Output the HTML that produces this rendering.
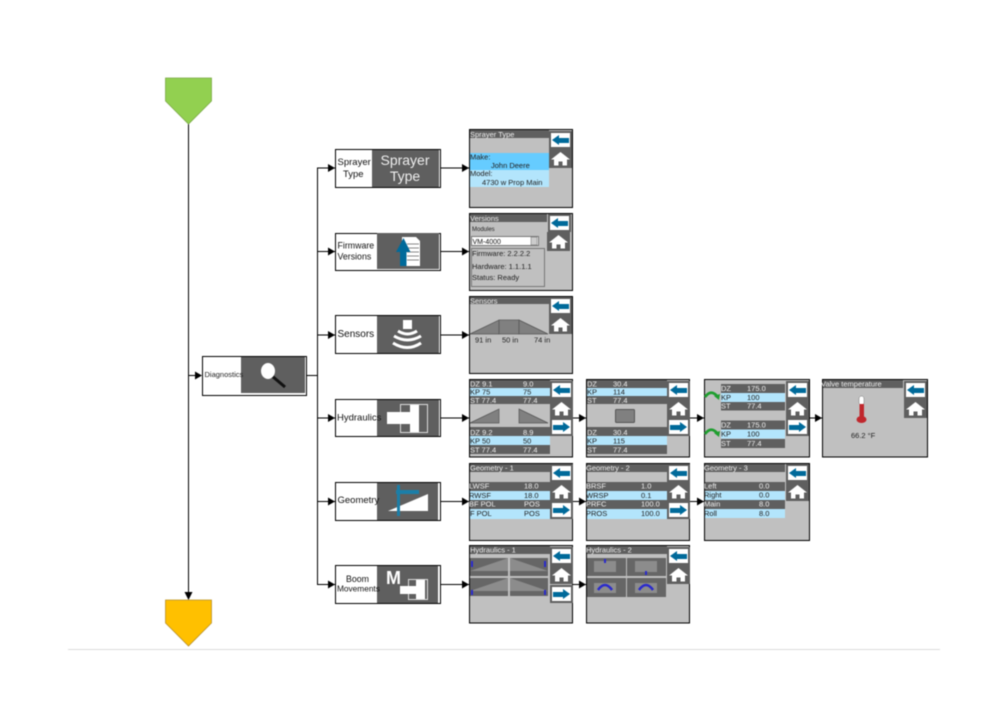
<!DOCTYPE html>
<html><head><meta charset="utf-8"><style>
html,body{margin:0;padding:0;background:#fff}
svg{display:block;filter:blur(.4px)}
text{font-family:"Liberation Sans",sans-serif}
.l{font-size:9.5px;fill:#111}
.w{fill:#f0f0f0;font-size:7.5px}
.d{fill:#222;font-size:7.5px}
</style></head><body>
<svg width="1008" height="720" viewBox="0 0 1008 720" xmlns="http://www.w3.org/2000/svg">
<defs>
<g id="ar"><polygon points="-7,-4 0,0 -7,4" fill="#000"/></g>
<g id="back"><rect x="0" y="0" width="23" height="18" fill="#5f5f5f"/><rect x="2" y="2" width="19" height="14" fill="#fff"/><polygon points="3,9 10,4 10,7 20,7 20,12 10,12 10,14" fill="#006a9a"/></g>
<g id="next"><rect x="0" y="0" width="23" height="18" fill="#5f5f5f"/><rect x="2" y="2" width="19" height="14" fill="#fff"/><polygon points="20,9 13,4 13,7 3,7 3,12 13,12 13,14" fill="#006a9a"/></g>
<g id="home"><rect x="0" y="0" width="23" height="19" fill="#5f5f5f"/><polygon points="11.500,3 21,10.500 18,10.500 18,16.500 13.500,16.500 13.500,12.500 9.500,12.500 9.500,16.500 5,16.500 5,10.500 2,10.500" fill="#fff"/></g>
<g id="tri"><polygon points="0,14 29,0 29,14" fill="#808080" stroke="#555" stroke-width=".7"/></g>
<g id="tril"><polygon points="0,0 29,14 0,14" fill="#808080" stroke="#555" stroke-width=".7"/></g>
</defs>

<!-- footer -->
<rect x="68" y="649" width="872" height="1" fill="#dcdcdc"/>

<!-- connectors -->
<g stroke="#000" stroke-width="1" fill="none">
<path d="M188.500 124V594"/>
<path d="M188.500 375.500H196"/>
<path d="M307 375.500H317.500"/>
<path d="M335 168H317.500V584.500H335"/>
<path d="M317.500 251.500H335M317.500 335H335M317.500 418H335M317.500 501.500H335"/>
<path d="M441 168H469M441 251.500H469M441 335H469M441 418H469M441 501.500H469M441 584.500H469"/>
<path d="M573 418H586M690 418H704M810 418H822M573 501.500H586M690 501.500H704M573 584.500H586"/>
</g>
<polygon points="184.500,592 192.500,592 188.500,600" fill="#000"/>
<use href="#ar" x="202" y="375.500"/>
<use href="#ar" x="335" y="168"/><use href="#ar" x="335" y="251.500"/><use href="#ar" x="335" y="335"/><use href="#ar" x="335" y="418"/><use href="#ar" x="335" y="501.500"/><use href="#ar" x="335" y="584.500"/>
<use href="#ar" x="469" y="168"/><use href="#ar" x="469" y="251.500"/><use href="#ar" x="469" y="335"/><use href="#ar" x="469" y="418"/><use href="#ar" x="469" y="501.500"/><use href="#ar" x="469" y="584.500"/>
<use href="#ar" x="586" y="418"/><use href="#ar" x="704" y="418"/><use href="#ar" x="822" y="418"/><use href="#ar" x="586" y="501.500"/><use href="#ar" x="704" y="501.500"/><use href="#ar" x="586" y="584.500"/>

<!-- terminators -->
<polygon points="165.500,78 211.500,78 211.500,101 188.500,124 165.500,101" fill="#92d050" stroke="#7aa845" stroke-width=".8"/>
<polygon points="165.500,600 211.500,600 211.500,623 188.500,646 165.500,623" fill="#ffc000" stroke="#b8902a" stroke-width=".8"/>

<!-- Diagnostics -->
<rect x="202.500" y="356.500" width="104" height="39" fill="#fff" stroke="#000"/>
<rect x="241" y="357" width="64" height="36" fill="#5f5f5f"/>
<text x="204.500" y="377" style="font-size:7.5px" fill="#222">Diagnostics</text>
<line x1="272" y1="376" x2="285" y2="387" stroke="#111" stroke-width="3"/>
<ellipse cx="268" cy="371" rx="7" ry="8" fill="#fff"/>

<!-- Sprayer -->
<rect x="335.500" y="149.500" width="105" height="38" fill="#fff" stroke="#000"/>
<rect x="372" y="150" width="67" height="37" fill="#5f5f5f"/>
<text class="l" x="337.500" y="165">Sprayer</text><text class="l" x="343" y="177">Type</text>
<text x="405" y="165" text-anchor="middle" style="font-size:14px" fill="#eee">Sprayer</text>
<text x="405" y="181" text-anchor="middle" style="font-size:14px" fill="#eee">Type</text>

<!-- Firmware -->
<rect x="335.500" y="233.500" width="105" height="37" fill="#fff" stroke="#000"/>
<rect x="377" y="233" width="62" height="36" fill="#5f5f5f"/>
<text x="337.500" y="248.500" style="font-size:8.800px" fill="#111">Firmware</text><text x="337.500" y="259.500" style="font-size:8.800px" fill="#111">Versions</text>
<polygon points="402,237 416,237 420,241 420,266 402,266" fill="#fff"/>
<path d="M407 244H419M407 248H419M407 252H419M407 256H419M407 260H419" stroke="#888" stroke-width="1"/>
<polygon points="403.500,238 396,252 400,252 400,266 406.500,266 406.500,252 410.500,252" fill="#006a9a"/>

<!-- Sensors -->
<rect x="335.500" y="315.500" width="105" height="38" fill="#fff" stroke="#000"/>
<rect x="377" y="316" width="62" height="37" fill="#5f5f5f"/>
<text x="337.500" y="337" style="font-size:10px" fill="#111">Sensors</text>
<rect x="403" y="320" width="9" height="9" fill="#fff"/>
<g fill="none" stroke="#fff" stroke-width="3"><path d="M398 331Q407.500 337 417 331"/><path d="M394 336Q407.500 344 421 336"/><path d="M393 343Q407.500 352 421 343"/></g>

<!-- Hydraulics -->
<rect x="335.500" y="399.500" width="105" height="37" fill="#fff" stroke="#000"/>
<rect x="377" y="400" width="62" height="36" fill="#5f5f5f"/>
<text x="337" y="420.500" style="font-size:9.500px" fill="#111">Hydraulics</text>
<rect x="400.500" y="404.500" width="27" height="28" fill="none" stroke="#ddd"/>
<rect x="410" y="405" width="9" height="27" fill="#fff"/>
<rect x="387" y="412" width="24" height="12" fill="#fff"/>

<!-- Geometry -->
<rect x="335.500" y="482.500" width="105" height="38" fill="#fff" stroke="#000"/>
<rect x="377" y="483" width="61" height="37" fill="#5f5f5f"/>
<text x="337.500" y="503" style="font-size:9.500px" fill="#111">Geometry</text>
<polygon points="388,511 428,494 428,511" fill="#fff"/>
<rect x="397" y="485" width="3" height="31" fill="#1b7ea8"/>
<rect x="396" y="490" width="23" height="4" fill="#1b7ea8"/>

<!-- Boom -->
<rect x="335.500" y="565.500" width="105" height="38" fill="#fff" stroke="#000"/>
<rect x="377" y="566" width="61" height="37" fill="#5f5f5f"/>
<text x="346" y="582" style="font-size:8.800px" fill="#111">Boom</text>
<text x="337" y="591.500" style="font-size:8.300px" fill="#111">Movements</text>
<text x="386" y="584" style="font-size:18px;font-weight:bold" fill="#fff">M</text>
<rect x="408.500" y="579.500" width="19" height="20" fill="none" stroke="#ddd"/>
<rect x="416" y="580" width="9" height="19" fill="#fff"/>
<rect x="400" y="586" width="17" height="8" fill="#fff"/>

<!-- Screen: Sprayer Type -->
<rect x="469.500" y="129.500" width="103" height="78" fill="#c0c0c0" stroke="#000"/>
<rect x="470" y="130" width="79" height="8" fill="#5f5f5f"/>
<text class="w" x="470" y="137">Sprayer Type</text>
<rect x="470" y="153" width="79" height="17" fill="#66ccff"/>
<rect x="470" y="170" width="79" height="17" fill="#b3e5fc"/>
<text class="d" x="470" y="159.500">Make:</text>
<text class="d" x="491" y="168">John Deere</text>
<text class="d" x="470" y="176">Model:</text>
<text class="d" x="482" y="185">4730 w Prop Main</text>
<use href="#back" x="549" y="131"/><use href="#home" x="549" y="149"/>

<!-- Screen: Versions -->
<rect x="469.500" y="213.500" width="103" height="77" fill="#c0c0c0" stroke="#000"/>
<rect x="470" y="214" width="77" height="8" fill="#5f5f5f"/>
<text class="w" x="470" y="221">Versions</text>
<text x="472" y="231" style="font-size:6px" fill="#222">Modules</text>
<rect x="471.500" y="236.500" width="67" height="9" fill="#fff" stroke="#777"/>
<text x="472.500" y="244" style="font-size:7px" fill="#111">VM-4000</text>
<rect x="531" y="237" width="6" height="8" fill="#ccc" stroke="#666" stroke-width=".5"/>
<rect x="471.500" y="248.500" width="73" height="38" fill="none" stroke="#777"/>
<text class="d" x="472" y="256">Firmware: 2.2.2.2</text>
<text class="d" x="472" y="269">Hardware: 1.1.1.1</text>
<text class="d" x="472" y="280">Status: Ready</text>
<use href="#back" x="548" y="214"/><use href="#home" x="547" y="232"/>

<!-- Screen: Sensors -->
<rect x="469.500" y="296.500" width="103" height="77" fill="#c0c0c0" stroke="#000"/>
<rect x="470" y="297" width="79" height="7" fill="#5f5f5f"/>
<text class="w" x="470" y="303.500">Sensors</text>
<use href="#tri" x="470" y="320"/><rect x="499" y="320" width="20" height="14" fill="#808080" stroke="#555" stroke-width=".7"/><use href="#tril" x="519" y="320"/>
<text class="d" x="475" y="342.500">91 in</text><text class="d" x="502" y="342.500">50 in</text><text class="d" x="534" y="342.500">74 in</text>
<use href="#back" x="549" y="297"/><use href="#home" x="549" y="315"/>

<!-- Screen: Hydraulics 1 -->
<rect x="469.500" y="379.500" width="103" height="77.500" fill="#c0c0c0" stroke="#000"/>
<rect x="470" y="380" width="80" height="8" fill="#5f5f5f"/><rect x="470" y="388" width="80" height="8" fill="#b3e5fc"/><rect x="470" y="396" width="80" height="8" fill="#5f5f5f"/>
<rect x="470" y="427" width="80" height="9" fill="#5f5f5f"/><rect x="470" y="436" width="80" height="9" fill="#b3e5fc"/><rect x="470" y="445" width="80" height="9" fill="#5f5f5f"/>
<text class="w" x="470" y="386.500">DZ  9.1</text><text class="w" x="523" y="386.500">9.0</text>
<text class="d" x="470" y="394.500">KP  75</text><text class="d" x="523" y="394.500">75</text>
<text class="w" x="470" y="403">ST  77.4</text><text class="w" x="523" y="403">77.4</text>
<use href="#tri" x="470" y="409"/><use href="#tril" x="519" y="409"/>
<text class="w" x="470" y="435">DZ  9.2</text><text class="w" x="523" y="435">8.9</text>
<text class="d" x="470" y="443.500">KP  50</text><text class="d" x="523" y="443.500">50</text>
<text class="w" x="470" y="452.500">ST  77.4</text><text class="w" x="523" y="452.500">77.4</text>
<use href="#back" x="550" y="381"/><use href="#home" x="550" y="399"/><use href="#next" x="550" y="418"/>

<!-- Screen: Hydraulics 2 -->
<rect x="586.500" y="379.500" width="103" height="77.500" fill="#c0c0c0" stroke="#000"/>
<rect x="587" y="380" width="80" height="8" fill="#5f5f5f"/><rect x="587" y="388" width="80" height="8" fill="#b3e5fc"/><rect x="587" y="396" width="80" height="8" fill="#5f5f5f"/>
<rect x="587" y="427" width="80" height="9" fill="#5f5f5f"/><rect x="587" y="436" width="80" height="9" fill="#b3e5fc"/><rect x="587" y="445" width="80" height="9" fill="#5f5f5f"/>
<text class="w" x="587" y="386.500">DZ</text><text class="w" x="613" y="386.500">30.4</text>
<text class="d" x="587" y="394.500">KP</text><text class="d" x="613" y="394.500">114</text>
<text class="w" x="587" y="403">ST</text><text class="w" x="613" y="403">77.4</text>
<rect x="615.500" y="409.500" width="19" height="13" rx="1" fill="#808080" stroke="#555"/>
<text class="w" x="587" y="435">DZ</text><text class="w" x="613" y="435">30.4</text>
<text class="d" x="587" y="443.500">KP</text><text class="d" x="613" y="443.500">115</text>
<text class="w" x="587" y="452.500">ST</text><text class="w" x="613" y="452.500">77.4</text>
<use href="#back" x="667" y="381"/><use href="#home" x="667" y="399"/><use href="#next" x="667" y="418"/>

<!-- Screen: Hydraulics 3 -->
<rect x="704.500" y="379.500" width="105" height="77.500" fill="#c0c0c0" stroke="#000"/>
<rect x="721" y="384" width="64" height="9" fill="#5f5f5f"/><rect x="721" y="393" width="64" height="9" fill="#b3e5fc"/><rect x="721" y="402" width="64" height="8.500" fill="#5f5f5f"/>
<rect x="721" y="420.500" width="64" height="9" fill="#5f5f5f"/><rect x="721" y="429.500" width="64" height="9" fill="#b3e5fc"/><rect x="721" y="439" width="64" height="9" fill="#5f5f5f"/>
<text class="w" x="721" y="391">DZ</text><text class="w" x="747" y="391">175.0</text>
<text class="d" x="721" y="400">KP</text><text class="d" x="747" y="400">100</text>
<text class="w" x="721" y="408.500">ST</text><text class="w" x="747" y="408.500">77.4</text>
<text class="w" x="721" y="427.500">DZ</text><text class="w" x="747" y="427.500">175.0</text>
<text class="d" x="721" y="436.500">KP</text><text class="d" x="747" y="436.500">100</text>
<text class="w" x="721" y="446">ST</text><text class="w" x="747" y="446">77.4</text>
<path d="M705 397Q711 389 717 396" fill="none" stroke="#1f9e2f" stroke-width="2.800"/><polygon points="714,396 720,394 719,400" fill="#1f9e2f"/>
<path d="M705 434Q711 426 717 433" fill="none" stroke="#1f9e2f" stroke-width="2.800"/><polygon points="714,433 720,431 719,437" fill="#1f9e2f"/>
<use href="#back" x="786" y="381"/><use href="#home" x="786" y="399"/><use href="#next" x="786" y="418"/>

<!-- Screen: Valve temperature -->
<rect x="822.500" y="379.500" width="105" height="77.500" fill="#c0c0c0" stroke="#000"/>
<rect x="823" y="380" width="80" height="8" fill="#5f5f5f"/>
<text class="w" x="821" y="386.500">Valve temperature</text>
<rect x="859" y="396" width="5" height="9" rx="2.500" fill="#fff" stroke="#777" stroke-width=".5"/>
<rect x="859.500" y="404" width="4.500" height="16" fill="#c0272d"/>
<ellipse cx="861.500" cy="419.500" rx="5" ry="3.500" fill="#c0272d"/>
<text class="d" x="851" y="438">66.2 °F</text>
<use href="#back" x="904" y="381"/><use href="#home" x="904" y="399"/>

<!-- Screen: Geometry 1 -->
<rect x="469.500" y="463.500" width="103" height="77" fill="#c0c0c0" stroke="#000"/>
<rect x="470" y="464" width="80" height="8" fill="#5f5f5f"/>
<text class="w" x="470" y="470.500">Geometry - 1</text>
<rect x="470" y="482" width="80" height="9" fill="#5f5f5f"/><rect x="470" y="491" width="80" height="9" fill="#b3e5fc"/><rect x="470" y="500" width="80" height="9" fill="#5f5f5f"/><rect x="470" y="509" width="80" height="10" fill="#b3e5fc"/>
<text class="w" x="469" y="488.500">LWSF</text><text class="w" x="524" y="488.500">18.0</text>
<text class="d" x="469" y="498">RWSF</text><text class="d" x="524" y="498">18.0</text>
<text class="w" x="469" y="506.500">BF POL</text><text class="w" x="524" y="506.500">POS</text>
<text class="d" x="470" y="516">F POL</text><text class="d" x="524" y="516">POS</text>
<use href="#back" x="550" y="464"/><use href="#home" x="550" y="482"/><use href="#next" x="550" y="501"/>

<!-- Screen: Geometry 2 -->
<rect x="586.500" y="463.500" width="103" height="77" fill="#c0c0c0" stroke="#000"/>
<rect x="587" y="464" width="80" height="8" fill="#5f5f5f"/>
<text class="w" x="586" y="470.500">Geometry - 2</text>
<rect x="587" y="482" width="80" height="9" fill="#5f5f5f"/><rect x="587" y="491" width="80" height="9" fill="#b3e5fc"/><rect x="587" y="500" width="80" height="9" fill="#5f5f5f"/><rect x="587" y="509" width="80" height="10" fill="#b3e5fc"/>
<text class="w" x="586" y="488.500">BRSF</text><text class="w" x="641" y="488.500">1.0</text>
<text class="d" x="586" y="498">WRSP</text><text class="d" x="641" y="498">0.1</text>
<text class="w" x="586" y="506.500">PRFC</text><text class="w" x="641" y="506.500">100.0</text>
<text class="d" x="586" y="516">PROS</text><text class="d" x="641" y="516">100.0</text>
<use href="#back" x="667" y="464"/><use href="#home" x="667" y="482"/><use href="#next" x="667" y="501"/>

<!-- Screen: Geometry 3 -->
<rect x="704.500" y="463.500" width="105" height="77" fill="#c0c0c0" stroke="#000"/>
<rect x="705" y="464" width="80" height="8" fill="#5f5f5f"/>
<text class="w" x="704" y="470.500">Geometry - 3</text>
<rect x="705" y="482" width="80" height="9" fill="#5f5f5f"/><rect x="705" y="491" width="80" height="9" fill="#b3e5fc"/><rect x="705" y="500" width="80" height="9" fill="#5f5f5f"/><rect x="705" y="509" width="80" height="9" fill="#b3e5fc"/>
<text class="w" x="704" y="488.500">Left</text><text class="w" x="759" y="488.500">0.0</text>
<text class="d" x="704" y="497.500">Right</text><text class="d" x="759" y="497.500">0.0</text>
<text class="w" x="704" y="506.500">Main</text><text class="w" x="759" y="506.500">8.0</text>
<text class="d" x="704" y="516">Roll</text><text class="d" x="759" y="516">8.0</text>
<use href="#back" x="786" y="464"/><use href="#home" x="786" y="482"/>

<!-- Screen: Hydraulics - 1 -->
<rect x="469.500" y="545.500" width="103" height="77.500" fill="#c0c0c0" stroke="#000"/>
<rect x="470" y="546" width="80" height="8" fill="#5f5f5f"/>
<text class="w" x="470" y="552.500">Hydraulics - 1</text>
<rect x="470" y="558" width="38" height="18" fill="#666"/><rect x="510" y="558" width="38" height="18" fill="#666"/><rect x="470" y="578" width="38" height="18" fill="#666"/><rect x="510" y="578" width="38" height="18" fill="#666"/>
<polygon points="470,571 508,558 508,571" fill="#8c8c8c"/><polygon points="510,558 548,571 510,571" fill="#8c8c8c"/>
<polygon points="470,591 508,578 508,591" fill="#8c8c8c"/><polygon points="510,578 548,591 510,591" fill="#8c8c8c"/>
<rect x="471" y="561" width="2" height="6" fill="#2a2acc"/><rect x="544" y="561" width="2" height="6" fill="#2a2acc"/><rect x="471" y="590" width="2" height="5" fill="#2a2acc"/><rect x="544" y="590" width="2" height="5" fill="#2a2acc"/>
<use href="#back" x="550" y="547"/><use href="#home" x="550" y="565"/><use href="#next" x="550" y="585"/>

<!-- Screen: Hydraulics - 2 -->
<rect x="586.500" y="545.500" width="103" height="77.500" fill="#c0c0c0" stroke="#000"/>
<rect x="587" y="546" width="80" height="8" fill="#5f5f5f"/>
<text class="w" x="586" y="552.500">Hydraulics - 2</text>
<rect x="587" y="558" width="39" height="18" fill="#666"/><rect x="627" y="558" width="39" height="18" fill="#666"/><rect x="587" y="578" width="39" height="19" fill="#666"/><rect x="627" y="578" width="39" height="19" fill="#666"/>
<rect x="594" y="561" width="22" height="11" fill="#8c8c8c"/><rect x="635" y="561" width="22" height="11" fill="#8c8c8c"/><rect x="594" y="583" width="22" height="10" fill="#8c8c8c"/><rect x="635" y="583" width="22" height="10" fill="#8c8c8c"/>
<rect x="604" y="559" width="2" height="4" fill="#2a2acc"/><rect x="645" y="571" width="2" height="4" fill="#2a2acc"/>
<path d="M598 590Q605 580 612 590" fill="none" stroke="#2a2acc" stroke-width="2.500"/><path d="M639 590Q646 580 653 590" fill="none" stroke="#2a2acc" stroke-width="2.500"/>
<use href="#back" x="667" y="547"/><use href="#home" x="667" y="565"/>
</svg>
</body></html>
